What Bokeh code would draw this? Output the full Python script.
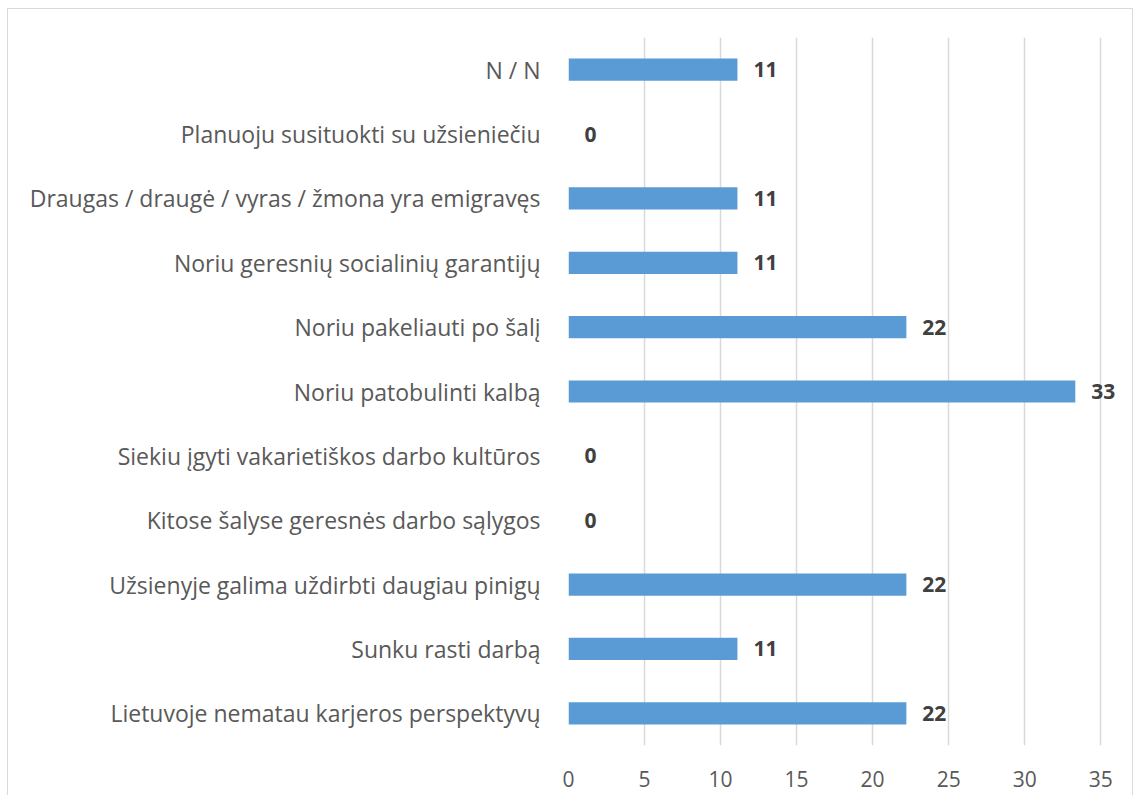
from bokeh.plotting import figure
from bokeh.models import ColumnDataSource, FactorRange, Range1d, FixedTicker
from bokeh.core.properties import value
from bokeh.embed import file_html
from bokeh.resources import INLINE

categories = [
    "Lietuvoje nematau karjeros perspektyvų",
    "Sunku rasti darbą",
    "Užsienyje galima uždirbti daugiau pinigų",
    "Kitose šalyse geresnės darbo sąlygos",
    "Siekiu įgyti vakarietiškos darbo kultūros",
    "Noriu patobulinti kalbą",
    "Noriu pakeliauti po šalį",
    "Noriu geresnių socialinių garantijų",
    "Draugas / draugė / vyras / žmona yra emigravęs",
    "Planuoju susituokti su užsieniečiu",
    "N / N",
]
values = [22.22, 11.11, 22.22, 0, 0, 33.33, 22.22, 11.11, 11.11, 0, 11.11]
x_ticks = [0, 5, 10, 15, 20, 25, 30, 35]

FONT = "Open Sans"

src = ColumnDataSource(dict(
    cat=categories,
    val=values,
    lab=["{:.0f}".format(v) for v in values],
))

p = figure(
    width=1133, height=795,
    y_range=FactorRange(factors=categories, range_padding=0),
    x_range=Range1d(0, 36.5),
    output_backend="svg", toolbar_location=None,
    min_border_left=568, min_border_right=10,
    min_border_top=37, min_border_bottom=50,
)
p.background_fill_color = None
p.border_fill_color = None
g = "linear-gradient(#d9d9d9,#d9d9d9)"
p.styles = {
    "background": (f"{g} 7px 8px/1px 1000px no-repeat, "
                   f"{g} 7px 8px/1126px 1px no-repeat, "
                   f"{g} 1132px 8px/1px 1000px no-repeat, white"),
}

p.hbar(y="cat", right="val", left=0, height=0.345, source=src,
       fill_color="#5B9BD5", line_color=None)

p.text(x="val", y="cat", text="lab", source=src,
       x_offset=16, text_align="left", text_baseline="middle",
       text_font=value(FONT), text_font_style="bold",
       text_font_size="21px", text_color="#404040")

p.outline_line_color = None
p.ygrid.grid_line_color = None
p.xgrid.grid_line_color = "#d9d9d9"
p.xgrid.grid_line_width = 1.5
p.xaxis.ticker = FixedTicker(ticks=x_ticks)

for ax in (p.xaxis[0], p.yaxis[0]):
    ax.axis_line_color = None
    ax.major_tick_line_color = None
    ax.minor_tick_line_color = None
    ax.major_label_text_font = FONT
    ax.major_label_text_color = "#595959"

p.xaxis.major_label_text_font_size = "21px"
p.yaxis.major_label_text_font_size = "23px"
p.xaxis.major_label_standoff = 19
p.yaxis.major_label_standoff = 22

open("out.html", "w").write(file_html(p, INLINE))
